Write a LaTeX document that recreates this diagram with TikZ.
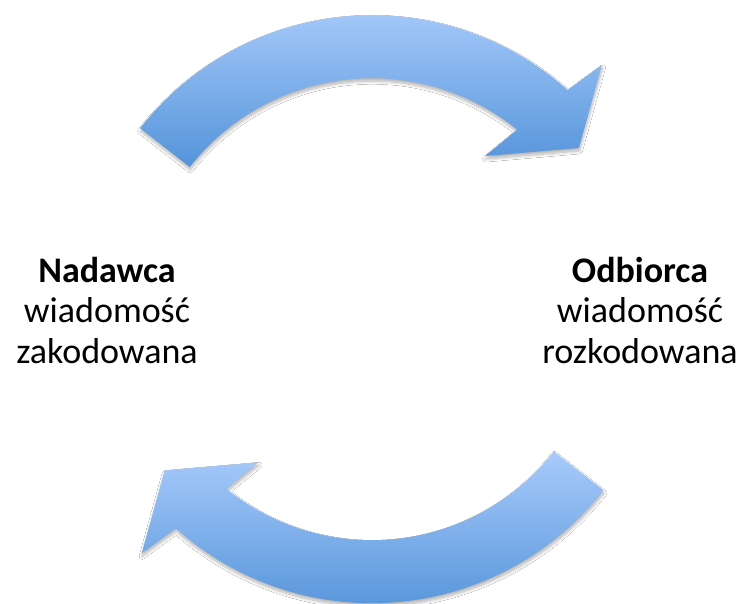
\documentclass[tikz,border=0pt]{standalone}
\usepackage{fontspec}
\setmainfont{Carlito}
\usetikzlibrary{shadows.blur}
\definecolor{arrowlight}{RGB}{168,203,251}
\definecolor{arrowdark}{RGB}{84,148,218}
\begin{document}
\begin{tikzpicture}[x=1pt,y=1pt,
  bentarrow/.style={top color=arrowlight, bottom color=arrowdark, draw=none,
    blur shadow={shadow xshift=0.5pt, shadow yshift=-3pt, shadow opacity=30, shadow blur radius=3pt, shadow blur steps=8}},
  label/.style={font=\fontsize{36}{40}\selectfont, anchor=base, inner sep=0pt}]
\useasboundingbox[fill=white] (0,0) rectangle (743,604);
\coordinate (C) at (371.8,294.8);
% upper arrow: sender to receiver
\begin{scope}[shift={(C)}]
  \path[bentarrow] (142:294) arc[start angle=142, end angle=48.2, radius=294]
    -- (46.7:335.6) -- (37.9:262.5) -- (53.5:190.5) -- (51:231)
    arc[start angle=51, end angle=142, radius=231] -- cycle;
  % lower arrow: receiver back to sender
  \path[bentarrow] (322:294) arc[start angle=322, end angle=228.2, radius=294]
    -- (226.7:335.6) -- (217.9:262.5) -- (233.5:190.5) -- (231:231)
    arc[start angle=231, end angle=322, radius=231] -- cycle;
\end{scope}
% sender
\node[label] (nad1) at (107,321.7) {\bfseries Nadawca};
\node[label] (nad2) at (107,281.2) {wiadomość};
\node[label] (nad3) at (107,240.7) {zakodowana};
% receiver
\node[label] (odb1) at (640,321.7) {\bfseries Odbiorca};
\node[label] (odb2) at (640,281.2) {wiadomość};
\node[label] (odb3) at (640,240.7) {rozkodowana};
\end{tikzpicture}
\end{document}
